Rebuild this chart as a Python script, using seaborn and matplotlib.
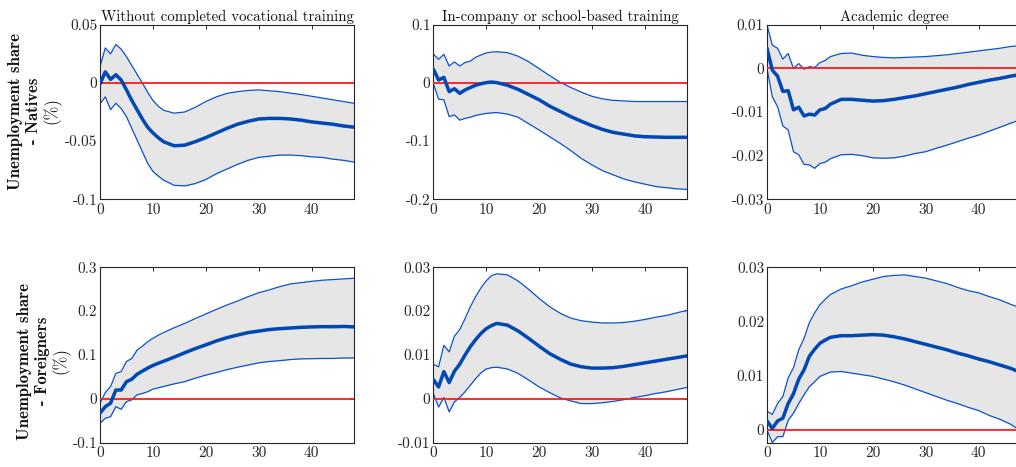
import numpy as np
import matplotlib
matplotlib.use("Agg")
import matplotlib.pyplot as plt
import seaborn as sns

# ---------------- data ----------------
horizon = [0, 1, 2, 3, 4, 5, 6, 7, 8, 9, 10, 11, 12,
           14, 16, 18, 20, 22, 24, 26, 28, 30, 32, 34, 36, 38, 40, 42, 44, 46, 48]

col_titles = ["Without completed vocational training",
              "In-company or school-based training",
              "Academic degree"]
row_labels = [("Unemployment share", "- Natives", "(%)"),
              ("Unemployment share", "- Foreigners", "(%)")]

# Natives - without completed vocational training
nat_novoc_mean = [-0.001, 0.0095, 0.003, 0.007, 0.0025, -0.006, -0.015, -0.023, -0.031, -0.038, -0.043, -0.047, -0.0505,
                  -0.054, -0.0535, -0.0505, -0.047, -0.043, -0.039, -0.0355, -0.033, -0.031, -0.0305, -0.0305, -0.031,
                  -0.032, -0.0335, -0.0345, -0.0355, -0.037, -0.038]
nat_novoc_upper = [0.014, 0.030, 0.025, 0.033, 0.029, 0.0225, 0.015, 0.0075, 0.0, -0.008, -0.015, -0.020, -0.0235,
                   -0.026, -0.025, -0.021, -0.016, -0.012, -0.009, -0.0075, -0.0065, -0.006, -0.0068, -0.0075, -0.0088,
                   -0.010, -0.0115, -0.013, -0.0145, -0.016, -0.0175]
nat_novoc_lower = [-0.018, -0.012, -0.023, -0.0175, -0.022, -0.029, -0.039, -0.049, -0.059, -0.069, -0.076, -0.080, -0.0835,
                   -0.088, -0.0885, -0.0865, -0.083, -0.078, -0.074, -0.070, -0.0665, -0.064, -0.063, -0.062, -0.062,
                   -0.0625, -0.0635, -0.064, -0.0655, -0.0665, -0.068]

# Natives - in-company or school-based training
nat_voc_mean = [0.024, 0.005, 0.0095, -0.015, -0.010, -0.018, -0.012, -0.008, -0.004, -0.0015, 0.0005, 0.0015, 0.0005,
                -0.004, -0.011, -0.020, -0.029, -0.040, -0.049, -0.058, -0.066, -0.0735, -0.080, -0.085, -0.088,
                -0.091, -0.0925, -0.093, -0.0935, -0.0935, -0.0935]
nat_voc_upper = [0.0495, 0.0405, 0.049, 0.029, 0.036, 0.029, 0.035, 0.0375, 0.044, 0.048, 0.0515, 0.053, 0.0535,
                 0.052, 0.046, 0.0365, 0.0245, 0.0125, 0.001, -0.008, -0.016, -0.023, -0.0275, -0.030, -0.031,
                 -0.032, -0.032, -0.032, -0.032, -0.032, -0.032]
nat_voc_lower = [-0.001, -0.028, -0.029, -0.058, -0.055, -0.064, -0.061, -0.059, -0.056, -0.054, -0.0525, -0.0515, -0.051,
                 -0.0535, -0.059, -0.070, -0.081, -0.0925, -0.104, -0.1165, -0.130, -0.141, -0.151, -0.158, -0.165,
                 -0.170, -0.174, -0.178, -0.180, -0.182, -0.183]

# Natives - academic degree
nat_acad_mean = [0.0046, -0.0004, -0.0018, -0.0053, -0.0051, -0.0095, -0.0089, -0.0109, -0.0105, -0.0107, -0.0095, -0.0092, -0.0082,
                 -0.0071, -0.0071, -0.0073, -0.0075, -0.0074, -0.0071, -0.0067, -0.0063, -0.0058, -0.0053, -0.0048, -0.0043,
                 -0.0037, -0.0032, -0.0027, -0.0023, -0.0018, -0.0014]
nat_acad_upper = [0.010, 0.0053, 0.0046, 0.0021, 0.0034, 0.0, 0.0011, -0.0002, 0.0004, 0.0002, 0.0013, 0.0018, 0.0027,
                  0.0034, 0.0035, 0.003, 0.0027, 0.0025, 0.0024, 0.0025, 0.0026, 0.0027, 0.0029, 0.0031, 0.0034,
                  0.0037, 0.004, 0.0043, 0.0046, 0.005, 0.0052]
nat_acad_lower = [0.0, -0.0065, -0.0088, -0.0132, -0.0141, -0.0191, -0.0198, -0.022, -0.0221, -0.0229, -0.0218, -0.0215, -0.0207,
                  -0.0198, -0.0197, -0.0200, -0.0205, -0.0206, -0.0205, -0.0201, -0.0195, -0.0191, -0.0183, -0.0176, -0.0168,
                  -0.016, -0.0153, -0.0144, -0.0135, -0.0126, -0.0117]

# Foreigners - without completed vocational training
for_novoc_mean = [-0.033, -0.018, -0.010, 0.020, 0.020, 0.039, 0.0445, 0.056, 0.063, 0.070, 0.076, 0.081, 0.0855,
                  0.095, 0.105, 0.1145, 0.123, 0.132, 0.1395, 0.1455, 0.151, 0.1545, 0.158, 0.160, 0.1615,
                  0.163, 0.164, 0.1645, 0.1645, 0.165, 0.164]
for_novoc_upper = [-0.010, 0.014, 0.028, 0.058, 0.062, 0.085, 0.092, 0.111, 0.120, 0.130, 0.138, 0.145, 0.151,
                   0.162, 0.172, 0.183, 0.1935, 0.204, 0.214, 0.223, 0.233, 0.242, 0.2485, 0.256, 0.262,
                   0.265, 0.268, 0.2705, 0.272, 0.2735, 0.275]
for_novoc_lower = [-0.056, -0.0445, -0.041, -0.018, -0.024, -0.0065, -0.0025, 0.009, 0.012, 0.016, 0.022, 0.025, 0.028,
                   0.034, 0.039, 0.047, 0.054, 0.060, 0.0665, 0.072, 0.077, 0.082, 0.085, 0.087, 0.0895,
                   0.091, 0.0915, 0.092, 0.092, 0.093, 0.093]

# Foreigners - in-company or school-based training
for_voc_mean = [0.0044, 0.0027, 0.0062, 0.0037, 0.0063, 0.0079, 0.010, 0.0119, 0.0135, 0.0149, 0.016, 0.0167, 0.0172,
                0.0168, 0.0155, 0.0138, 0.012, 0.0103, 0.009, 0.0079, 0.0073, 0.007, 0.007, 0.0071, 0.0074,
                0.0078, 0.0082, 0.0086, 0.009, 0.0094, 0.0098]
for_voc_upper = [0.0079, 0.0073, 0.0122, 0.0107, 0.0143, 0.0158, 0.0183, 0.021, 0.0233, 0.0253, 0.0269, 0.0281, 0.0285,
                 0.0283, 0.0269, 0.025, 0.0229, 0.021, 0.0195, 0.0184, 0.0178, 0.0175, 0.0173, 0.0173, 0.0174,
                 0.0177, 0.0181, 0.0186, 0.019, 0.0196, 0.0202]
for_voc_lower = [0.0012, -0.0019, 0.0003, -0.003, -0.0007, 0.0003, 0.0016, 0.0031, 0.0046, 0.0059, 0.0068, 0.0071, 0.0072,
                 0.0068, 0.0058, 0.0043, 0.0027, 0.0014, 0.0002, -0.0005, -0.0011, -0.0011, -0.0009, -0.0006, -0.0002,
                 0.0003, 0.0007, 0.0012, 0.0016, 0.0021, 0.0026]

# Foreigners - academic degree
for_acad_mean = [0.0017, 0.0003, 0.0017, 0.0022, 0.0049, 0.0067, 0.0094, 0.0111, 0.0136, 0.0149, 0.016, 0.0166, 0.0171,
                 0.0174, 0.0174, 0.0175, 0.0176, 0.0175, 0.0172, 0.0168, 0.0163, 0.0158, 0.0153, 0.0148, 0.0142,
                 0.0137, 0.0131, 0.0126, 0.012, 0.0114, 0.0106]
for_acad_upper = [0.0035, 0.0029, 0.0049, 0.0062, 0.0096, 0.0115, 0.0148, 0.0169, 0.0198, 0.0216, 0.0231, 0.0241, 0.025,
                  0.026, 0.0266, 0.0273, 0.0278, 0.0283, 0.0285, 0.0286, 0.0283, 0.028, 0.0275, 0.027, 0.0263,
                  0.0257, 0.0253, 0.0246, 0.024, 0.0232, 0.0225]
for_acad_lower = [0.0, -0.0023, -0.0012, -0.0012, 0.0018, 0.0031, 0.0049, 0.0065, 0.008, 0.0089, 0.0099, 0.0103, 0.0107,
                  0.0108, 0.0105, 0.0102, 0.0099, 0.0094, 0.0089, 0.0083, 0.0076, 0.0069, 0.0062, 0.0055, 0.0049,
                  0.0042, 0.0036, 0.0027, 0.002, 0.0011, -0.0002]

x_ticks = [0, 10, 20, 30, 40]
y_ticks = [
    [[-0.1, -0.05, 0, 0.05], [-0.2, -0.1, 0, 0.1], [-0.03, -0.02, -0.01, 0, 0.01]],
    [[-0.1, 0, 0.1, 0.2, 0.3], [-0.01, 0, 0.01, 0.02, 0.03], [0, 0.01, 0.02, 0.03]],
]
y_tick_labels = [
    [["-0.1", "-0.05", "0", "0.05"], ["-0.2", "-0.1", "0", "0.1"], ["-0.03", "-0.02", "-0.01", "0", "0.01"]],
    [["-0.1", "0", "0.1", "0.2", "0.3"], ["-0.01", "0", "0.01", "0.02", "0.03"], ["0", "0.01", "0.02", "0.03"]],
]
y_limits = [
    [(-0.1, 0.05), (-0.2, 0.1), (-0.03, 0.01)],
    [(-0.1, 0.3), (-0.01, 0.03), (-0.0023, 0.03)],
]

panels = [
    [(nat_novoc_mean, nat_novoc_upper, nat_novoc_lower),
     (nat_voc_mean, nat_voc_upper, nat_voc_lower),
     (nat_acad_mean, nat_acad_upper, nat_acad_lower)],
    [(for_novoc_mean, for_novoc_upper, for_novoc_lower),
     (for_voc_mean, for_voc_upper, for_voc_lower),
     (for_acad_mean, for_acad_upper, for_acad_lower)],
]

# ---------------- style ----------------
sns.set_style("white")
plt.rcParams["font.family"] = ["cmr10", "DejaVu Serif"]
plt.rcParams["axes.unicode_minus"] = False
plt.rcParams["mathtext.fontset"] = "cm"

W, H = 1016, 467
fig = plt.figure(figsize=(W / 100, H / 100), dpi=100)

BLUE = "#0048b4"
BAND_BLUE = "#0a52c8"
GRAY_FILL = "#e6e6e6"
AX_COL = "#262626"

col_left = [100, 433.3, 767]
ax_w = 254
row_top = [24.7, 267.3]
row_bot = [199.3, 442.6]

for r in range(2):
    for c in range(3):
        left = col_left[c] / W
        bottom = 1 - row_bot[r] / H
        height = (row_bot[r] - row_top[r]) / H
        ax = fig.add_axes([left, bottom, ax_w / W, height])
        mean, upper, lower = panels[r][c]
        ax.fill_between(horizon, lower, upper, color=GRAY_FILL, linewidth=0, zorder=1)
        sns.lineplot(x=horizon, y=upper, ax=ax, color=BAND_BLUE, linewidth=0.9, zorder=2)
        sns.lineplot(x=horizon, y=lower, ax=ax, color=BAND_BLUE, linewidth=0.9, zorder=2)
        ax.axhline(0, color="#ff1a1a", linewidth=1.3, zorder=3)
        sns.lineplot(x=horizon, y=mean, ax=ax, color=BLUE, linewidth=2.5, zorder=4)

        ax.set_xlim(0, 48)
        ax.set_ylim(*y_limits[r][c])
        ax.set_xticks(x_ticks)
        ax.set_xticklabels([str(t) for t in x_ticks])
        ax.set_yticks(y_ticks[r][c])
        ax.set_yticklabels(y_tick_labels[r][c])
        ax.tick_params(direction="in", length=3, width=0.7, colors=AX_COL,
                       labelsize=11, top=True, right=True, pad=3)
        ax.tick_params(axis="y", pad=2)
        for s in ax.spines.values():
            s.set_color(AX_COL)
            s.set_linewidth(0.8)
            s.set_visible(True)
        ax.set_xlabel("")
        ax.set_ylabel("")
        if r == 0:
            ax.set_title(col_titles[c], fontsize=10.7, color="#111111", pad=3)

# row labels (three stacked rotated lines)
label_x = [[16, 34, 52], [25, 43, 61]]
label_yc = [111, 361]
for r in range(2):
    yc = 1 - label_yc[r] / H
    l1, l2, l3 = row_labels[r]
    fig.text(label_x[r][0] / W, yc, l1, rotation=90, ha="center", va="center",
             fontsize=12, family=["cmb10", "DejaVu Serif"], color="#111111")
    fig.text(label_x[r][1] / W, yc, l2, rotation=90, ha="center", va="center",
             fontsize=12, family=["cmb10", "DejaVu Serif"], color="#111111")
    fig.text(label_x[r][2] / W, yc, l3, rotation=90, ha="center", va="center",
             fontsize=12, family=["cmr10", "DejaVu Serif"], color="#111111")

fig.savefig("out.png", dpi=100)
